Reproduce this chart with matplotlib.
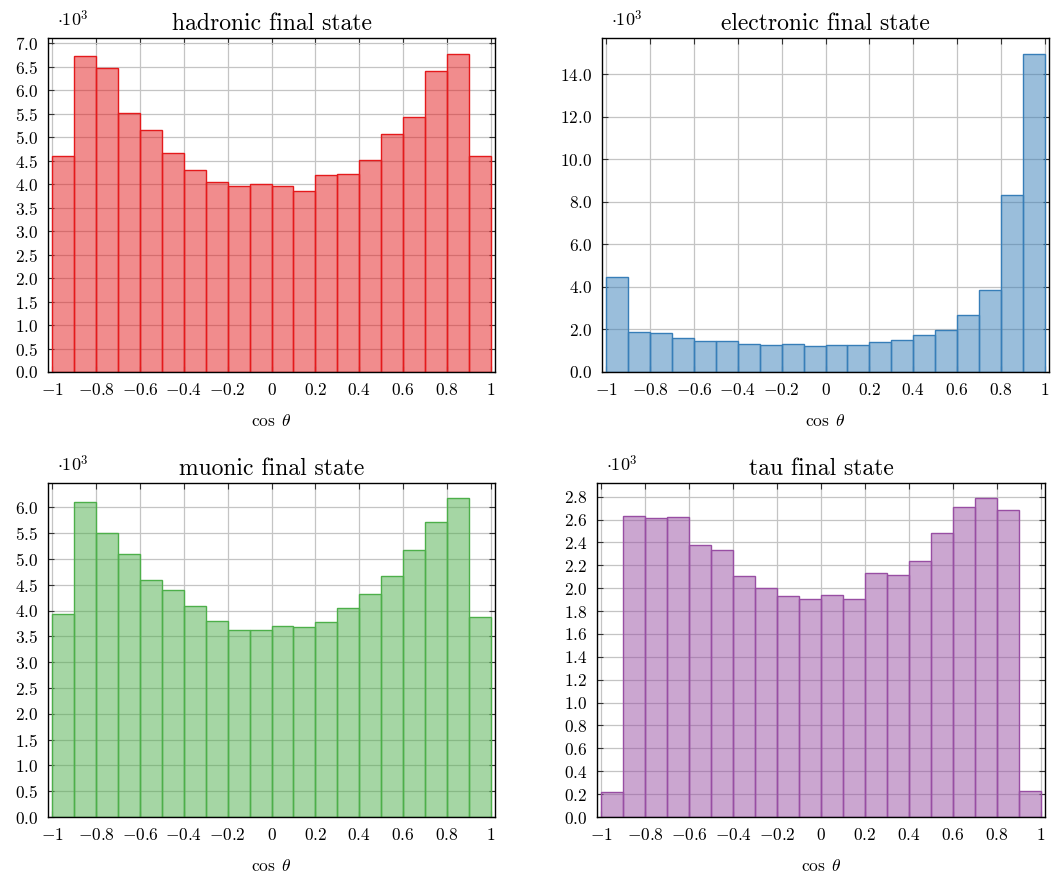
import numpy as np
import matplotlib
matplotlib.use("Agg")
import matplotlib.pyplot as plt

plt.rcParams['mathtext.fontset'] = 'cm'
plt.rcParams['font.family'] = ['cmr10', 'DejaVu Serif']
plt.rcParams['axes.unicode_minus'] = False

bin_edges = np.linspace(-1, 1, 21)

hadronic = [4.59, 6.73, 6.48, 5.52, 5.16, 4.67, 4.31, 4.04, 3.97, 4.00,
            3.95, 3.86, 4.19, 4.22, 4.52, 5.06, 5.43, 6.40, 6.77, 4.60]
electronic = [4.47, 1.88, 1.83, 1.60, 1.46, 1.47, 1.32, 1.27, 1.32, 1.22,
              1.27, 1.27, 1.39, 1.49, 1.76, 1.97, 2.66, 3.86, 8.31, 14.97]
muonic = [3.93, 6.10, 5.50, 5.10, 4.59, 4.39, 4.08, 3.79, 3.62, 3.62,
          3.70, 3.68, 3.78, 4.05, 4.32, 4.67, 5.17, 5.72, 6.17, 3.88]
tau = [0.219, 2.63, 2.61, 2.62, 2.38, 2.33, 2.11, 2.00, 1.93, 1.91,
       1.94, 1.91, 2.13, 2.12, 2.24, 2.48, 2.71, 2.79, 2.68, 0.227]

titles = ["hadronic final state", "electronic final state",
          "muonic final state", "tau final state"]
colors = ["#e41a1c", "#377eb8", "#4daf4a", "#984ea3"]
xticks = [-1, -0.8, -0.6, -0.4, -0.2, 0, 0.2, 0.4, 0.6, 0.8, 1]
xticklabels = [r"$-1$", r"$-0.8$", r"$-0.6$", r"$-0.4$", r"$-0.2$", r"$0$",
               r"$0.2$", r"$0.4$", r"$0.6$", r"$0.8$", r"$1$"]
yticks_list = [np.arange(0, 7.01, 0.5), np.arange(0, 14.01, 2.0),
               np.arange(0, 6.01, 0.5), np.arange(0, 2.81, 0.2)]
ytop = [7.11, 15.7, 6.47, 2.92]

W, H = 1051, 875
fig = plt.figure(figsize=(W / 100, H / 100), dpi=100)

# axes boxes in pixels: left, right, top, bottom
boxes = [(48, 495, 38, 372), (602, 1049, 38, 372),
         (48, 495, 483, 817), (597, 1045, 483, 817)]

data = [hadronic, electronic, muonic, tau]
for i, (vals, box) in enumerate(zip(data, boxes)):
    l, r, t, b = box
    ax = fig.add_axes([l / W, 1 - b / H, (r - l) / W, (b - t) / H])
    ax.set_axisbelow(True)
    ax.grid(True, color="#c4c4c4", linewidth=0.9)
    ax.bar(bin_edges[:-1], vals, width=np.diff(bin_edges), align='edge',
           color=colors[i], alpha=0.5, edgecolor='none')
    ax.bar(bin_edges[:-1], vals, width=np.diff(bin_edges), align='edge',
           facecolor='none', edgecolor=colors[i], linewidth=1.0)
    ax.set_xlim(-1.02, 1.02)
    ax.set_ylim(0, ytop[i])
    ax.set_xticks(xticks)
    ax.set_xticklabels(xticklabels, fontsize=12.5)
    yt = yticks_list[i]
    ax.set_yticks(yt)
    ax.set_yticklabels([r"$%.1f$" % v for v in yt], fontsize=12.5)
    ax.tick_params(direction='in', top=True, right=True, length=4,
                   width=0.8, color='#333333', pad=7)
    for s in ax.spines.values():
        s.set_linewidth(1.0)
    ax.set_title(titles[i], fontsize=17, pad=6)
    ax.set_xlabel(r"$\cos\;\theta$", fontsize=12.5, labelpad=11)
    ax.text(0.02, 1.025, r"$\cdot 10^3$", transform=ax.transAxes,
            fontsize=13, ha='left', va='bottom')

fig.savefig("out.png", dpi=100)
